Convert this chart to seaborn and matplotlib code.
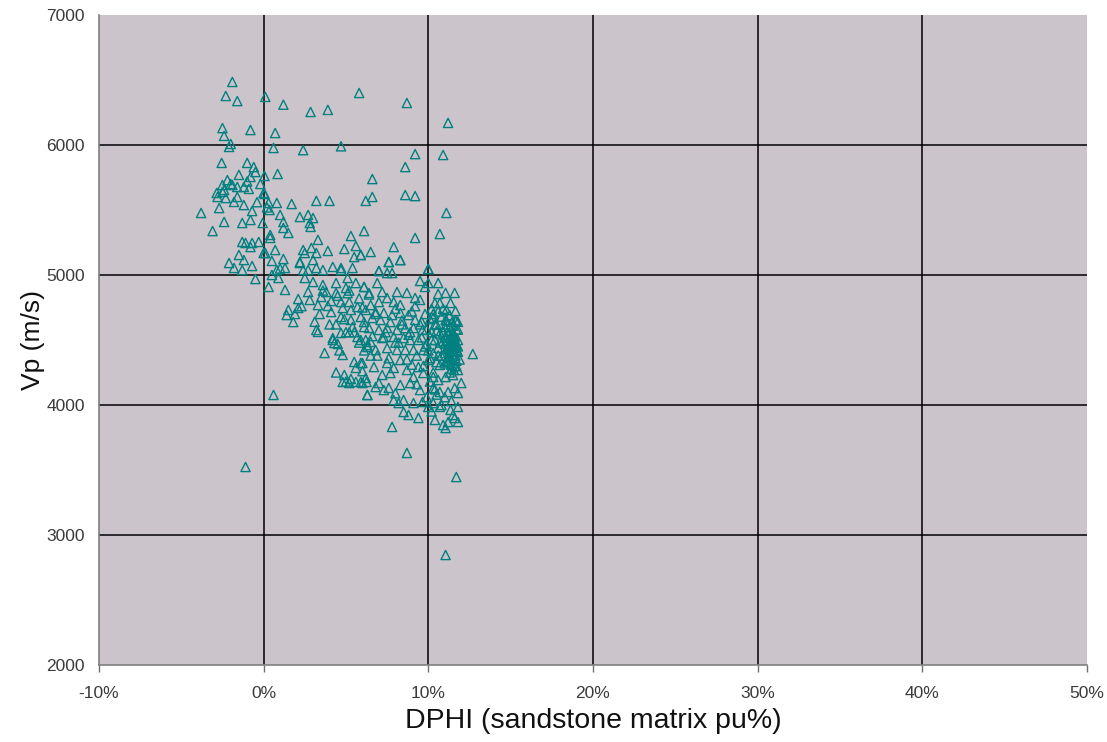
import matplotlib
matplotlib.use("Agg")
import matplotlib.pyplot as plt
import seaborn as sns
import pandas as pd

# ---- data (DPHI in %, Vp in m/s) ----
dphi_pct = [
    # sparse upper points
    -1.9, -2.3, -1.6, 0.1, 1.2, 2.85, 3.9, 5.8, 8.7, 11.2, 0.7, -0.8, -2.5, -2.4, -2.0, -2.1,
    0.6, 2.4, 4.7, 9.2, 10.9, 8.6, 6.6, 6.6, 6.2, 8.6, 9.2, 11.1, 10.7, 9.2,
    3.2, 4.0, 1.7, 0.85, -3.8, -3.1, -2.4, -2.55,
    6.1, 5.3, 7.9, 8.3, 7.6, 3.0, 2.85, 4.9, 5.6, 6.5, 5.9, 10.0, 7.0, 5.4, 4.7,
    # left cluster
    -1.0, -0.6, -0.5, 0.05, -1.5, -0.8, -2.2, -1.9, -1.6, -1.2, -2.5, -2.4, -0.9, 0.0, -2.8,
    -2.85, -2.5, -2.3, -1.8, -1.6, -1.2, -2.7, -1.3, -0.7, -0.8, -0.06, 0.06, 0.3, 0.36, 0.8,
    1.0, 2.2, 1.2, 1.2, 1.5, 0.4, 0.4, -1.3, -0.7, -0.3, -0.8, -1.1, 0.0, 0.7, -1.5, -1.2,
    -2.1, -1.8, -1.3, -0.7, 0.5, 0.8, 1.3, 0.9, -0.5, 0.3, 1.3, 2.2, 2.4, 2.4, 2.9, 2.8, 2.7,
    -0.2, 0.2, -1.0, -2.0, -0.4,
    # middle band
    0.1, 1.2, 1.0, 0.5, 3.3, 3.9, 3.2, 2.5, 2.2, 3.0, 2.7, 3.2, 3.6, 4.2, 4.7, 5.1, 2.5, 3.0,
    3.6, 4.4, 5.0, 5.6, 6.1, 3.8, 4.4, 2.1, 2.7, 2.8, 3.5, 2.1, 3.3, 3.9, 4.1, 4.7, 5.2, 4.8,
    5.3, 5.7, 1.5, 1.4, 1.8, 4.7, 5.3, 5.9, 3.2, 4.2, 4.3, 4.7, 5.7, 6.1, 6.3, 5.5, 5.9, 1.9,
    2.3, 3.6, 4.0, 4.5, 5.0, 5.4, 6.0, 6.4, 6.8, 3.1, 3.7, 4.6, 5.1, 5.8, 6.6,
    4.4, 5.5, 6.2, 3.4, 4.9, 5.8, 6.5, 4.1, 5.2,
    # lower middle
    0.6, 4.2, 4.5, 4.8, 5.5, 5.9, 5.6, 4.9, 4.8, 5.2, 5.6, 5.9, 6.25, 6.3, 5.9, 6.1, 6.3, 5.2,
    3.3, 4.4, 5.0, 5.3, 6.0,
    # right cluster upper part
    8.3, 7.6, 7.0, 7.5, 7.8, 10.0, 9.5, 10.0, 9.8, 10.6, 10.6, 11.05, 11.6, 8.7, 8.1, 9.2, 9.5,
    10.4, 10.7, 11.35, 10.2, 10.6, 11.1, 11.65, 11.65, 11.8, 11.05, 10.3,
    6.9, 6.1, 6.4, 7.2, 7.5, 7.0, 7.9, 8.3, 6.5, 6.2, 6.8, 7.3, 7.8, 8.3, 8.8, 9.2, 7.7, 7.1,
    6.6, 6.1, 6.4, 7.0, 7.5, 8.1, 8.6, 9.1, 9.65, 7.2, 7.9, 8.5, 8.9, 9.4, 6.5, 6.8, 7.5, 8.1,
    8.6, 9.1, 9.7, 8.0, 8.4, 8.9, 9.3, 9.0, 8.2, 7.4, 6.9, 8.7, 9.5, 9.9,
    7.6, 8.0, 8.8, 9.6, 9.2, 8.4, 7.3, 9.8,
    # dense core 10-12 %
    10.3, 10.8, 11.3, 11.7, 10.5, 11.0, 11.5, 11.8, 10.2, 10.7, 11.2, 11.6, 10.4, 10.9, 11.3,
    11.7, 10.6, 11.1, 11.5, 11.8, 10.3, 10.8, 11.2, 11.6, 11.9, 10.5, 11.0, 11.4, 11.7, 11.4,
    11.6, 11.2, 11.5, 11.0, 11.3, 11.8, 11.1, 10.9, 11.5, 11.3, 11.6, 11.4, 11.7, 11.2, 11.5,
    11.0, 11.3, 11.6, 11.8, 11.4, 10.9, 11.1, 11.4, 11.7, 11.2, 11.5, 11.0, 11.3, 11.6, 10.1,
    10.4, 10.7, 9.9, 10.2, 10.6, 9.8, 10.1, 10.5, 9.6, 10.0, 10.3, 9.7, 10.1, 10.4, 11.45,
    11.55, 11.25, 11.65, 11.35, 11.75, 11.15, 11.45, 11.55, 11.25,
    11.4, 11.6, 11.2, 11.5, 11.7, 11.3, 11.55, 11.45,
    12.7,
    # lower right part
    6.0, 6.7, 6.2, 6.0, 6.3, 6.8, 7.0, 7.3, 7.6, 7.2, 7.7, 7.9, 8.2, 8.5, 8.8, 9.4, 7.8, 8.7,
    8.5, 9.1, 9.65, 10.0, 10.3, 10.7, 10.4, 10.9, 11.05, 11.2, 11.5, 11.8, 11.35, 11.8, 11.4,
    11.8, 11.6, 12.0, 11.2, 10.7, 10.3, 9.5, 8.9, 8.3, 9.1, 8.7, 9.4, 9.7, 10.3, 10.6, 11.05,
    11.5, 11.8, 10.7, 8.3, 7.5, 7.9, 10.0, 9.9, 10.5, 11.0, 10.2, 9.3, 8.0, 9.0, 10.8, 11.6,
    # outliers
    11.7, 11.05, -1.1,
]

vp = [
    # sparse upper points
    6485, 6377, 6338, 6370, 6310, 6254, 6270, 6400, 6323, 6170, 6092, 6115, 6130, 6070, 6008, 5985,
    5977, 5960, 5990, 5930, 5923, 5830, 5738, 5600, 5570, 5615, 5607, 5477, 5315, 5285,
    5570, 5570, 5546, 5777, 5477, 5338, 5408, 5862,
    5338, 5300, 5215, 5115, 5100, 5438, 5370, 5200, 5223, 5177, 5154, 5046, 5031, 5054, 5054,
    # left cluster
    5862, 5830, 5792, 5762, 5770, 5754, 5730, 5692, 5677, 5677, 5692, 5654, 5662, 5631, 5600,
    5631, 5639, 5592, 5562, 5600, 5538, 5515, 5400, 5492, 5423, 5400, 5623, 5554, 5500, 5554,
    5462, 5446, 5408, 5362, 5323, 5308, 5285, 5254, 5246, 5254, 5215, 5246, 5169, 5192, 5154, 5115,
    5092, 5054, 5038, 5069, 5108, 5038, 5054, 4977, 4969, 4908, 4885, 5092, 5038, 5192, 5208, 5400, 5462,
    5700, 5520, 5720, 5700, 5560,
    # middle band
    5169, 5123, 5050, 5000, 5270, 5185, 5169, 5169, 5100, 5115, 5038, 5054, 5038, 5062, 5038, 4977, 4977, 4946,
    4923, 4938, 4900, 4938, 4908, 4869, 4862, 4815, 4869, 4808, 4831, 4746, 4769, 4762, 4715, 4792, 4792, 4746,
    4731, 4754, 4731, 4692, 4638, 4677, 4654, 4677, 4577, 4515, 4477, 4554, 4523, 4600, 4446, 5138, 5154, 4700,
    4760, 4880, 4620, 4840, 4560, 4600, 4750, 4850, 4700, 4640, 4400, 4420, 4860, 4480, 4530,
    4620, 4560, 4500, 4700, 4660, 4820, 4380, 4800, 4880,
    # lower middle
    4077, 4500, 4470, 4385, 4331, 4323, 4285, 4231, 4177, 4169, 4177, 4177, 4177, 4077, 4500, 4420, 4460, 4560,
    4562, 4250, 4180, 4200, 4260,
    # right cluster upper part
    5115, 5100, 5031, 5015, 5015, 5046, 4954, 4938, 4908, 4938, 4854, 4862, 4862, 4862, 4869, 4823, 4808,
    4785, 4785, 4785, 4740, 4720, 4730, 4723, 4654, 4640, 4654, 4670,
    4938, 4908, 4862, 4869, 4823, 4792, 4792, 4769, 4769, 4731, 4715, 4708, 4692, 4708, 4692, 4654, 4638, 4654,
    4669, 4638, 4592, 4577, 4592, 4577, 4592, 4592, 4577, 4515, 4523, 4515, 4500, 4500, 4485, 4423, 4438, 4423,
    4423, 4423, 4423, 4740, 4650, 4560, 4380, 4720, 4480, 4560, 4380, 4350, 4620, 4470,
    4360, 4480, 4540, 4640, 4760, 4620, 4520, 4700,
    # dense core 10-12 %
    4700, 4680, 4690, 4650, 4620, 4600, 4610, 4580, 4560, 4550, 4540, 4530, 4500, 4490, 4480,
    4470, 4440, 4430, 4420, 4410, 4400, 4380, 4370, 4360, 4350, 4330, 4320, 4310, 4300, 4460,
    4440, 4500, 4560, 4400, 4420, 4500, 4650, 4740, 4480, 4380, 4520, 4540, 4580, 4450, 4390,
    4470, 4600, 4410, 4450, 4350, 4560, 4520, 4280, 4340, 4620, 4540, 4520, 4250, 4300, 4660,
    4620, 4480, 4580, 4500, 4380, 4450, 4360, 4570, 4520, 4420, 4250, 4300, 4180, 4120, 4490,
    4410, 4440, 4380, 4520, 4460, 4340, 4640, 4270, 4400,
    4430, 4470, 4330, 4530, 4420, 4360, 4480, 4410,
    4392,
    # lower right part
    4323, 4292, 4208, 4169, 4077, 4138, 4169, 4115, 4131, 4231, 4246, 4038, 4015, 3946, 3923, 3900, 3831, 3631,
    4038, 4015, 4023, 3985, 4015, 3985, 3885, 3846, 3823, 3869, 3923, 3869, 3962, 3985, 4030,
    4092, 4130, 4169, 4100, 4100, 4130, 4115, 4169, 4154, 4215, 4269, 4292, 4246, 4215, 4192, 4215,
    4230, 4269, 4308, 4346, 4323, 4285, 4346, 4060, 4080, 4060, 3950, 4160, 4090, 4310, 4000, 3900,
    # outliers
    3446, 2846, 3523,
]

x_ticks = [-10, 0, 10, 20, 30, 40, 50]
x_tick_labels = ["-10%", "0%", "10%", "20%", "30%", "40%", "50%"]
y_ticks = [2000, 3000, 4000, 5000, 6000, 7000]
y_tick_labels = ["2000", "3000", "4000", "5000", "6000", "7000"]

df = pd.DataFrame({"dphi": dphi_pct, "vp": vp})

sns.set_theme(style="white")
plt.rcParams["font.family"] = ["Liberation Sans", "DejaVu Sans"]

fig = plt.figure(figsize=(11.07, 7.42), dpi=100)
ax = fig.add_axes([0.0894, 0.1038, 0.8925, 0.876])
ax.set_facecolor("#CCC4CB")

ax.set_xlim(-10, 50)
ax.set_ylim(2000, 7000)

for xv in x_ticks[1:-1]:
    ax.axvline(xv, color="black", lw=1.1, zorder=1)
for yv in y_ticks[1:-1]:
    ax.axhline(yv, color="black", lw=1.1, zorder=1)

sns.scatterplot(data=df, x="dphi", y="vp", ax=ax, marker="^", s=44,
                facecolors="none", edgecolors="#008080", linewidths=1.0, zorder=3)

ax.set_xticks(x_ticks)
ax.set_xticklabels(x_tick_labels)
ax.set_yticks(y_ticks)
ax.set_yticklabels(y_tick_labels)
ax.tick_params(axis="x", which="both", bottom=True, length=5, width=1, color="#707070",
               labelsize=12.5, labelcolor="#3a3a3a", pad=10)
ax.tick_params(axis="y", which="both", left=False, length=0, labelsize=12.5,
               labelcolor="#3a3a3a", pad=10)

for side in ["top", "right"]:
    ax.spines[side].set_visible(False)
for side in ["left", "bottom"]:
    ax.spines[side].set_color("#808080")
    ax.spines[side].set_linewidth(1.2)

ax.set_xlabel("DPHI (sandstone matrix pu%)", fontsize=20.5, color="#111111", labelpad=5)
ax.set_ylabel("Vp (m/s)", fontsize=19, color="#111111", labelpad=1)

fig.savefig("out.png", dpi=100, facecolor="white")
